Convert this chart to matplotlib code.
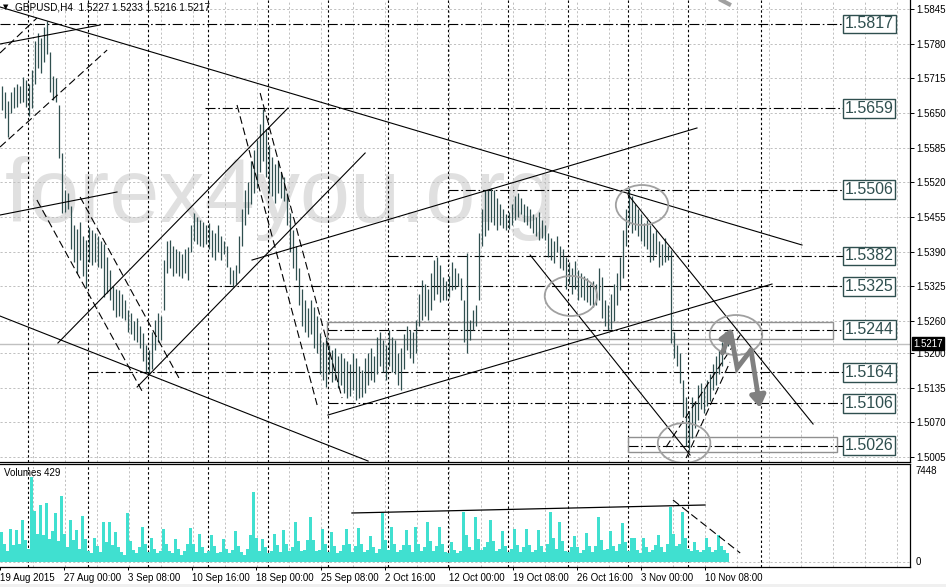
import matplotlib
matplotlib.use("Agg")
import matplotlib.pyplot as plt
from matplotlib.patches import Ellipse, Rectangle
import numpy as np

plt.rcParams['font.family'] = ['Liberation Sans', 'DejaVu Sans']

symbol_title = "GBPUSD,H4  1.5227 1.5233 1.5216 1.5217"
last_price = 1.5217
volume_title = "Volumes 429"

# H4 bars, high / low in pips above 1.5000
highs = [
    700, 690, 672, 690, 698, 705, 700, 718, 712, 705,
    730, 785, 800, 790, 812, 822, 765, 720, 715, 665,
    575, 505, 500, 475, 440, 432, 445, 420, 412, 436,
    430, 425, 420, 410, 405, 380, 355, 325, 320, 318,
    310, 300, 280, 275, 260, 265, 250, 238, 215, 205,
    240, 262, 275, 270, 374, 410, 412, 400, 395, 392,
    385, 395, 399, 440, 462, 455, 450, 445, 440, 444,
    430, 425, 440, 420, 410, 400, 361, 355, 365, 420,
    470, 506, 520, 560, 580, 600, 630, 657, 620, 590,
    568, 555, 560, 540, 530, 500, 462, 430, 400, 360,
    320, 300, 285, 300, 286, 270, 238, 220, 230, 215,
    205, 210, 195, 200, 190, 185, 180, 200, 190, 175,
    168, 190, 200, 210, 195, 230, 240, 225, 215, 243,
    230, 225, 200, 210, 235, 250, 243, 240, 262, 310,
    337, 330, 320, 350, 375, 380, 365, 343, 335, 345,
    370, 360, 350, 340, 300, 387, 262, 281, 290, 425,
    470, 506, 506, 510, 505, 490, 480, 470, 460, 465,
    480, 495, 500, 490, 480, 475, 470, 460, 455, 465,
    450, 440, 425, 415, 410, 420, 400, 395, 380, 370,
    360, 372, 355, 350, 345, 340, 330, 335, 330, 360,
    343, 300, 290, 310, 330, 350, 380, 430, 470, 509,
    495, 480, 470, 460, 444, 450, 440, 425, 430, 410,
    405, 415, 400, 393, 240, 215, 200, 150, 118, 90,
    118, 110, 140, 144, 135, 150, 160, 180, 195, 205,
    220, 240, 233,
]
lows = [
    655, 640, 605, 650, 660, 662, 668, 670, 662, 645,
    660, 705, 735, 725, 745, 760, 690, 675, 670, 565,
    462, 465, 470, 395, 370, 350, 375, 345, 322, 370,
    365, 370, 362, 360, 305, 312, 300, 280, 268, 270,
    265, 262, 240, 235, 225, 220, 210, 185, 165, 160,
    170, 205, 220, 225, 281, 350, 360, 345, 350, 345,
    340, 350, 337, 390, 410, 405, 400, 399, 405, 395,
    380, 374, 390, 375, 385, 362, 330, 324, 330, 350,
    400, 440, 460, 480, 500, 510, 540, 560, 530, 500,
    495, 481, 500, 490, 485, 440, 390, 360, 337, 290,
    250, 240, 230, 235, 210, 200, 160, 150, 136, 160,
    145, 150, 135, 140, 125, 115, 120, 130, 112, 115,
    118, 125, 140, 150, 145, 160, 175, 165, 150, 175,
    165, 160, 140, 131, 170, 205, 190, 181, 200, 250,
    262, 270, 262, 281, 300, 310, 295, 300, 299, 305,
    318, 320, 325, 300, 221, 200, 224, 243, 250, 300,
    400, 420, 430, 445, 440, 431, 440, 435, 431, 432,
    440, 450, 455, 460, 445, 440, 435, 425, 420, 412,
    415, 412, 380, 375, 369, 390, 360, 355, 320, 330,
    310, 320, 300, 305, 300, 295, 290, 286, 290, 300,
    265, 250, 243, 245, 260, 290, 318, 340, 400, 440,
    425, 430, 420, 410, 400, 395, 370, 375, 385, 361,
    365, 370, 375, 219, 190, 175, 144, 80, 25, 18,
    40, 60, 75, 95, 88, 100, 110, 131, 140, 160,
    175, 200, 214,
]
volumes = [
    2450, 1500, 900, 2700, 1400, 2600, 1500, 3440, 1800, 1100,
    6960, 4200, 2300, 4670, 2200, 4800, 1900, 2500, 4000, 1700,
    5400, 2300, 1200, 3440, 1800, 2600, 1100, 3770, 1900, 900,
    700, 2000, 1300, 800, 3300, 1600, 3300, 1400, 2450, 1200,
    800, 600, 4000, 1700, 1000, 700, 1200, 2900, 1500, 800,
    2000, 1100, 700, 900, 2700, 1500, 900, 700, 1880, 1100,
    600, 900, 1500, 2800, 1500, 800, 2300, 1200, 700, 900,
    2200, 1300, 700, 800, 1900, 1100, 700, 1000, 2500, 1300,
    800, 600, 1100, 2200, 5730, 2000, 900, 1900, 1200, 700,
    900, 2300, 1400, 800, 2600, 1500, 900, 1200, 3300, 1700,
    900, 1000, 1800, 3650, 1800, 900, 1000, 2700, 1500, 800,
    2450, 1300, 700, 900, 1400, 2700, 1500, 800, 1300, 2800,
    1500, 800, 1000, 2100, 1200, 700, 1100, 4000, 1800, 1000,
    2900, 1500, 800, 1000, 1400, 2600, 1400, 800, 2900, 1500,
    900, 1200, 3300, 1700, 900, 1300, 2900, 1500, 800, 700,
    1600, 1000, 700, 900, 4100, 2200, 1200, 1000, 3680, 1900,
    1000, 1200, 1600, 3440, 1700, 900, 1100, 2500, 1300, 800,
    1100, 2700, 1400, 800, 1200, 2700, 1400, 800, 1000, 2600,
    1300, 800, 1500, 4100, 2000, 1100, 3300, 1700, 900, 800,
    1200, 2100, 1200, 700, 1000, 2400, 1300, 800, 1300, 3680,
    1800, 1000, 1100, 2500, 1300, 900, 1500, 3200, 1600, 900,
    1950, 1950, 1000, 700, 1950, 1200, 800, 1000, 1400, 2200,
    1200, 800, 1500, 4500, 2300, 1300, 1500, 4100, 2000, 1100,
    900, 1600, 1000, 800, 1000, 1950, 1200, 800, 1000, 2200,
    1300, 1000, 700,
]
volume_max = 7448

price_ticks = [1.5845, 1.5780, 1.5715, 1.5650, 1.5585, 1.5520, 1.5455,
               1.5390, 1.5325, 1.5260, 1.5200, 1.5135, 1.5070, 1.5005]
date_labels = ["19 Aug 2015", "27 Aug 00:00", "3 Sep 08:00", "10 Sep 16:00",
               "18 Sep 00:00", "25 Sep 08:00", "2 Oct 16:00", "12 Oct 00:00",
               "19 Oct 08:00", "26 Oct 16:00", "3 Nov 00:00", "10 Nov 08:00"]

# horizontal levels drawn on the chart and the bar where each one starts
levels = [1.5817, 1.5659, 1.5506, 1.5382, 1.5325, 1.5244, 1.5164, 1.5106, 1.5026]
level_start = [-0.5, 67.8, 148.8, 128.8, 68.5, 108.5, 28.8, 108.8, 208.8]

# drawn objects: (bar, price) pairs
trend_solid = [
    ((-0.5, 1.58488), (266.8, 1.54025)),
    ((-0.5, 1.52693), (122.2, 1.49974)),
    ((-0.5, 1.57794), (32.8, 1.58150)),
    ((-0.5, 1.54587), (38.5, 1.55019)),
    ((18.8, 1.52187), (95.5, 1.56594)),
    ((45.2, 1.51362), (121.2, 1.55750)),
    ((83.5, 1.53743), (231.8, 1.56219)),
    ((108.8, 1.50837), (256.8, 1.53293)),
    ((208.8, 1.54969), (270.5, 1.50668)),
    ((176.2, 1.53837), (229.5, 1.50087)),
]
trend_dashed = [
    ((-0.5, 1.57625), (11.8, 1.58281)),
    ((-0.5, 1.55862), (35.2, 1.57681)),
    ((11.8, 1.54869), (47.2, 1.51250)),
    ((26.2, 1.54925), (59.5, 1.51494)),
    ((78.5, 1.56650), (105.2, 1.51025)),
    ((86.2, 1.56875), (113.5, 1.51156)),
    ((221.5, 1.50237), (246.2, 1.52337)),
    ((228.2, 1.50031), (242.8, 1.51831)),
]
zones = [((108.5, 1.52262), (277.2, 1.52581)),
         ((208.8, 1.50143), (278.5, 1.50425))]
circles = [(213.5, 1.54775), (189.8, 1.53069), (244.8, 1.52337), (227.5, 1.50312)]
arrow_up = [(240.3, 1.52000), (243.4, 1.52470)]
arrow_down = [(243.2, 1.52337), (245.2, 1.51718), (249.8, 1.52056), (252.8, 1.50969)]
top_stroke = [(239.8, 1.58619), (242.5, 1.58540)]
vol_solid = [(116.8, 4011), (234.5, 4666)]
vol_dashed = [(223.8, 5075), (246.2, 737)]

W, H = 946, 587
BAR = '#2f4f4f'
GRID = '#c0c0c0'
fig = plt.figure(figsize=(W / 100, H / 100), dpi=100)
ax = fig.add_axes([0, (H - 462) / H, 910 / W, 462 / H])
axv = fig.add_axes([0, (H - 567) / H, 910 / W, 103 / H])

xlim = (-0.5, 302.8)
n = len(highs)
x = np.arange(n)
hi = 1.5 + np.array(highs) / 10000
lo = 1.5 + np.array(lows) / 10000

ax.set_xlim(xlim)
ax.set_ylim(1.49956, 1.58619)
axv.set_xlim(xlim)
axv.set_ylim(-409, 8021)

grid_x = (1 + 32 * np.arange(1, 29) - 1.5) / 3
week_x = list(8.8 + 20 * np.arange(12)) + [253.2]
sep = (0, (2.2, 2.2))

for a in (ax, axv):
    for gx in grid_x:
        a.axvline(gx, color=GRID, lw=0.7, ls=sep, zorder=1)
    for wx in week_x:
        a.axvline(wx, color='black', lw=0.8, ls=sep, zorder=2)
for t in price_ticks:
    ax.axhline(t, color=GRID, lw=0.7, ls=sep, zorder=1)
axv.axhline(0, color=GRID, lw=0.7, ls=sep, zorder=1)

ax.text(1.2, 1.54456, "forex4you.org", fontsize=65, color='#e0e0e0',
        va='baseline', ha='left', zorder=0.5)

ax.axhline(last_price, color='#c0c0c0', lw=1.0, zorder=1.5)

for lv, st in zip(levels, level_start):
    ax.plot([st, 280.5], [lv, lv], color='black', lw=0.8,
            ls=(0, (9, 2.5, 1.5, 2.5)), zorder=3)
    ax.text(281.0, lv, f"{lv:.4f}", fontsize=11.5, color=BAR, va='center', ha='left',
            zorder=6, bbox=dict(boxstyle='square,pad=0.12', fc='white', ec=BAR, lw=1.0))

for (x0, y0), (x1, y1) in zones:
    ax.add_patch(Rectangle((x0, y0), x1 - x0, y1 - y0, fill=False, ec='#909090', lw=1.0, zorder=3))

ax.vlines(x, lo, hi, color=BAR, lw=0.9, zorder=4)

for (x0, y0), (x1, y1) in trend_solid:
    ax.plot([x0, x1], [y0, y1], color='black', lw=0.8, zorder=5)
for (x0, y0), (x1, y1) in trend_dashed:
    ax.plot([x0, x1], [y0, y1], color='black', lw=0.8, ls=(0, (7, 3.5)), zorder=5)

for cx, cy in circles:
    ax.add_patch(Ellipse((cx, cy), 17.5, 0.0075, fill=False, ec='#a0a0a0', lw=1.3, zorder=5))

ax.annotate('', xy=arrow_up[1], xytext=arrow_up[0],
            arrowprops=dict(arrowstyle='-|>,head_width=0.45,head_length=0.7',
                            lw=3.5, color='#808080', shrinkA=0, shrinkB=0), zorder=6)
ax.plot([p[0] for p in arrow_down[:-1]], [p[1] for p in arrow_down[:-1]],
        color='#808080', lw=3.5, solid_joinstyle='miter', zorder=6)
ax.annotate('', xy=arrow_down[-1], xytext=arrow_down[-2],
            arrowprops=dict(arrowstyle='-|>,head_width=0.45,head_length=0.7',
                            lw=3.5, color='#808080', shrinkA=0, shrinkB=0), zorder=6)
ax.plot([p[0] for p in top_stroke], [p[1] for p in top_stroke], color='#a0a0a0', lw=3, zorder=6)

# price axis
for s in ('left', 'top'):
    ax.spines[s].set_visible(False)
for s in ('right', 'bottom'):
    ax.spines[s].set_linewidth(0.9)
ax.yaxis.tick_right()
ax.set_yticks(price_ticks)
ax.set_yticklabels([f"{t:.4f}" for t in price_ticks])
ax.tick_params(axis='y', labelsize=7, length=3, pad=1.5, width=0.7)
ax.set_xticks([])

ax.annotate(f"{last_price:.4f}", xy=(1.0, last_price), xycoords=('axes fraction', 'data'),
            xytext=(2.5, 0), textcoords='offset points', ha='left', va='center',
            fontsize=7, color='white', annotation_clip=False,
            bbox=dict(boxstyle='square,pad=0.15', fc='black', ec='black'))

# volume panel
axv.bar(x, volumes, width=1.05, color='#40e0d0', lw=0, zorder=3)
axv.plot([p[0] for p in vol_solid], [p[1] for p in vol_solid], color='black', lw=0.9, zorder=5)
axv.plot([p[0] for p in vol_dashed], [p[1] for p in vol_dashed], color='black', lw=0.8,
         ls=(0, (7, 3.5)), zorder=5)
axv.spines['left'].set_visible(False)
for s in ('right', 'bottom', 'top'):
    axv.spines[s].set_linewidth(0.9)
axv.yaxis.tick_right()
axv.set_yticks([0, volume_max])
axv.set_yticklabels(['0', str(volume_max)])
axv.tick_params(axis='y', labelsize=7, length=0, pad=4)
date_x = -0.5 + np.arange(len(date_labels)) * 64.1 / 3
axv.set_xticks(date_x)
axv.set_xticklabels(date_labels, ha='left')
axv.tick_params(axis='x', labelsize=7, length=2.5, pad=1.5, width=0.7)
for lab in axv.get_yticklabels():
    lab.set_va('center')

fig.text(3 / W, 1 - 7 / H, '\u25bc', fontsize=5, va='center', family='DejaVu Sans')
fig.text(15 / W, 1 - 7 / H, symbol_title, fontsize=7.2, va='center')
fig.text(4 / W, 1 - 473 / H, volume_title, fontsize=7, va='center')
fig.patches.append(Rectangle((0, 0), 1, 3 / H, transform=fig.transFigure,
                             fc='#f0f0f0', ec='none'))

fig.savefig('out.png', dpi=100)
